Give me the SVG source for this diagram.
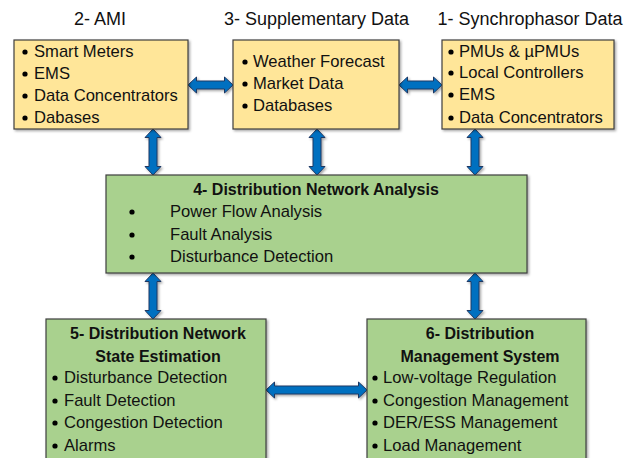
<svg xmlns="http://www.w3.org/2000/svg" width="625" height="458" viewBox="0 0 625 458">
<defs>
<filter id="sh" x="-10%" y="-10%" width="130%" height="130%">
<feDropShadow dx="1.5" dy="1.5" stdDeviation="1.2" flood-color="#000" flood-opacity="0.35"/>
</filter>
<style>
.yb{fill:#FFE699;stroke:#3F3F3F;stroke-width:1.2;filter:url(#sh)}
.gb{fill:#A9D18E;stroke:#3F3F3F;stroke-width:1.2;filter:url(#sh)}
.hd{font-family:"Liberation Sans",Arial,sans-serif;font-size:18px;fill:#111;text-anchor:middle}
.t{font-family:"Liberation Sans",Arial,sans-serif;font-size:16.6px;fill:#111}
.b{font-family:"Liberation Sans",Arial,sans-serif;font-size:16px;font-weight:bold;fill:#111;text-anchor:middle}
.dot{fill:#000}
.ar{fill:#0070C0;stroke:#1F3864;stroke-width:1;filter:url(#sh)}
</style>
</defs>
<rect width="625" height="458" fill="#fff"/>

<text class="hd" x="100" y="25">2- AMI</text>
<text class="hd" x="316.5" y="25">3- Supplementary Data</text>
<text class="hd" x="530" y="25">1- Synchrophasor Data</text>

<g id="connectors">
<path class="ar" d="M188,85 l8.5,-8 v4 h28 v-4 l8.5,8 l-8.5,8 v-4 h-28 v4 z"/>
<path class="ar" d="M399,85 l8.5,-8 v4 h26 v-4 l8.5,8 l-8.5,8 v-4 h-26 v4 z"/>
<path class="ar" d="M153,129 l8,8.5 h-4 v29 h4 l-8,8.5 l-8,-8.5 h4 v-29 h-4 z"/>
<path class="ar" d="M317,129 l8,8.5 h-4 v29 h4 l-8,8.5 l-8,-8.5 h4 v-29 h-4 z"/>
<path class="ar" d="M475,129 l8,8.5 h-4 v29 h4 l-8,8.5 l-8,-8.5 h4 v-29 h-4 z"/>
<path class="ar" d="M153,273 l8,8.5 h-4 v29 h4 l-8,8.5 l-8,-8.5 h4 v-29 h-4 z"/>
<path class="ar" d="M475,273 l8,8.5 h-4 v29 h4 l-8,8.5 l-8,-8.5 h4 v-29 h-4 z"/>
<path class="ar" d="M266,390 l8.5,-8 v4 h84 v-4 l8.5,8 l-8.5,8 v-4 h-84 v4 z"/>
</g>

<g id="ami">
<rect class="yb" x="14" y="40" width="174" height="89"/>
<circle class="dot" cx="25" cy="52" r="2.6"/>
<circle class="dot" cx="25" cy="74" r="2.6"/>
<circle class="dot" cx="25" cy="96" r="2.6"/>
<circle class="dot" cx="25" cy="118" r="2.6"/>
<text class="t" x="34" y="57">Smart Meters</text>
<text class="t" x="34" y="79">EMS</text>
<text class="t" x="34" y="101">Data Concentrators</text>
<text class="t" x="34" y="123">Dabases</text>
</g>

<g id="supp">
<rect class="yb" x="233" y="40" width="166" height="89"/>
<circle class="dot" cx="245" cy="62" r="2.6"/>
<circle class="dot" cx="245" cy="84" r="2.6"/>
<circle class="dot" cx="245" cy="106" r="2.6"/>
<text class="t" x="253" y="67">Weather Forecast</text>
<text class="t" x="253" y="89">Market Data</text>
<text class="t" x="253" y="111">Databases</text>
</g>

<g id="synchro">
<rect class="yb" x="442" y="40" width="172" height="89"/>
<circle class="dot" cx="451" cy="52" r="2.6"/>
<circle class="dot" cx="451" cy="73" r="2.6"/>
<circle class="dot" cx="451" cy="95" r="2.6"/>
<circle class="dot" cx="451" cy="118" r="2.6"/>
<text class="t" x="459" y="57">PMUs &amp; µPMUs</text>
<text class="t" x="459" y="78">Local Controllers</text>
<text class="t" x="459" y="100">EMS</text>
<text class="t" x="459" y="123">Data Concentrators</text>
</g>

<g id="dna">
<rect class="gb" x="106" y="175" width="421" height="98"/>
<text class="b" x="316" y="195">4- Distribution Network Analysis</text>
<circle class="dot" cx="132" cy="212" r="2.6"/>
<circle class="dot" cx="132" cy="235" r="2.6"/>
<circle class="dot" cx="132" cy="257" r="2.6"/>
<text class="t" x="170" y="217">Power Flow Analysis</text>
<text class="t" x="170" y="240">Fault Analysis</text>
<text class="t" x="170" y="262">Disturbance Detection</text>
</g>

<g id="dnse">
<rect class="gb" x="46" y="319" width="220" height="150"/>
<text class="b" x="158" y="339">5- Distribution Network</text>
<text class="b" x="158" y="362">State Estimation</text>
<circle class="dot" cx="55" cy="378" r="2.6"/>
<circle class="dot" cx="55" cy="401" r="2.6"/>
<circle class="dot" cx="55" cy="423" r="2.6"/>
<circle class="dot" cx="55" cy="446" r="2.6"/>
<text class="t" x="64" y="383">Disturbance Detection</text>
<text class="t" x="64" y="406">Fault Detection</text>
<text class="t" x="64" y="428">Congestion Detection</text>
<text class="t" x="64" y="451">Alarms</text>
</g>

<g id="dms">
<rect class="gb" x="367" y="319" width="219" height="150"/>
<text class="b" x="480" y="339">6- Distribution</text>
<text class="b" x="480" y="362">Management System</text>
<circle class="dot" cx="375" cy="378" r="2.6"/>
<circle class="dot" cx="375" cy="401" r="2.6"/>
<circle class="dot" cx="375" cy="423" r="2.6"/>
<circle class="dot" cx="375" cy="446" r="2.6"/>
<text class="t" x="383" y="383">Low-voltage Regulation</text>
<text class="t" x="383" y="406">Congestion  Management</text>
<text class="t" x="383" y="428">DER/ESS Management</text>
<text class="t" x="383" y="451">Load Management</text>
</g>
</svg>
